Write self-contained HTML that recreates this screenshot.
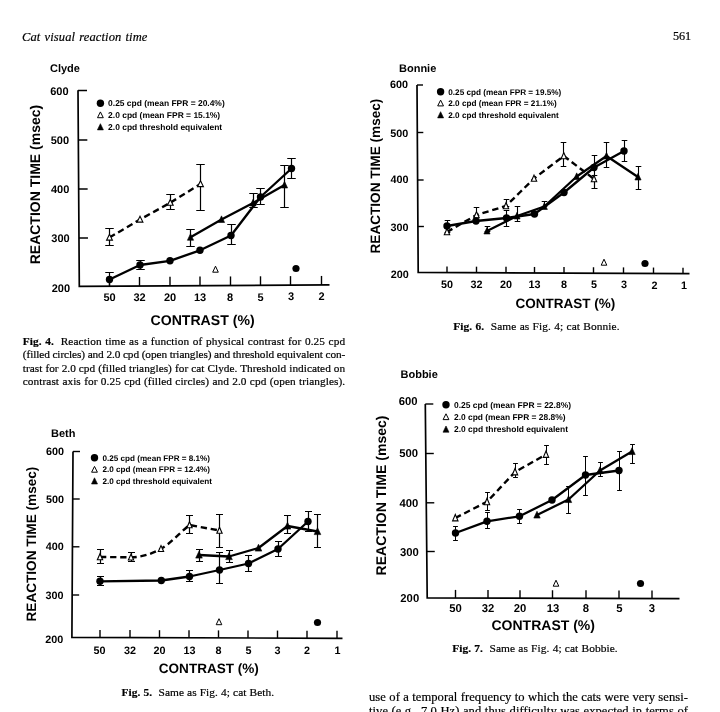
<!DOCTYPE html>
<html lang="en"><head><meta charset="utf-8"><title>Cat visual reaction time</title>
<style>
html,body{margin:0;padding:0;background:#fff;}
body{width:720px;height:712px;position:relative;overflow:hidden;color:#000;}
svg{position:absolute;left:0;top:0;filter:blur(0.35px);}
svg text{text-rendering:geometricPrecision;}
.t{position:absolute;white-space:nowrap;font-family:"Liberation Serif",serif;color:#000;line-height:1;-webkit-text-stroke:0.2px #000;filter:blur(0.3px);}
.j{text-align:justify;text-align-last:justify;white-space:normal;}
.cap{font-size:11px;}
.body{font-size:12.6px;}
b{font-weight:bold;}
</style></head><body>
<svg width="720" height="712" viewBox="0 0 720 712">
<path d="M78 90.3 L79.3 286.3 L329.5 284.9" fill="none" stroke="#000" stroke-width="1.7" stroke-linejoin="miter"/>
<path d="M78.00 90.5 L87.00 90.45" stroke="#000" stroke-width="1.4"/>
<path d="M78.33 140 L87.33 139.95" stroke="#000" stroke-width="1.4"/>
<path d="M78.65 189 L87.65 188.95" stroke="#000" stroke-width="1.4"/>
<path d="M78.98 238 L87.98 237.95" stroke="#000" stroke-width="1.4"/>
<text x="68.6" y="94.5" font-family='"Liberation Sans", sans-serif' font-size="11" font-weight="bold" text-anchor="end">600</text>
<text x="69" y="144" font-family='"Liberation Sans", sans-serif' font-size="11" font-weight="bold" text-anchor="end">500</text>
<text x="69.3" y="193" font-family='"Liberation Sans", sans-serif' font-size="11" font-weight="bold" text-anchor="end">400</text>
<text x="69.7" y="242" font-family='"Liberation Sans", sans-serif' font-size="11" font-weight="bold" text-anchor="end">300</text>
<text x="70" y="291.7" font-family='"Liberation Sans", sans-serif' font-size="11" font-weight="bold" text-anchor="end">200</text>
<path d="M109.5 286.13 L109.5 277.13" stroke="#000" stroke-width="1.4"/>
<path d="M139.5 285.96 L139.5 276.96" stroke="#000" stroke-width="1.4"/>
<path d="M170 285.79 L170 276.79" stroke="#000" stroke-width="1.4"/>
<path d="M200 285.62 L200 276.62" stroke="#000" stroke-width="1.4"/>
<path d="M230.5 285.45 L230.5 276.45" stroke="#000" stroke-width="1.4"/>
<path d="M260.5 285.29 L260.5 276.29" stroke="#000" stroke-width="1.4"/>
<path d="M290.5 285.12 L290.5 276.12" stroke="#000" stroke-width="1.4"/>
<path d="M321.5 284.94 L321.5 275.94" stroke="#000" stroke-width="1.4"/>
<text x="109.5" y="301.3" font-family='"Liberation Sans", sans-serif' font-size="11" font-weight="bold" text-anchor="middle">50</text>
<text x="139.5" y="301.16" font-family='"Liberation Sans", sans-serif' font-size="11" font-weight="bold" text-anchor="middle">32</text>
<text x="170" y="301.01" font-family='"Liberation Sans", sans-serif' font-size="11" font-weight="bold" text-anchor="middle">20</text>
<text x="200" y="300.87" font-family='"Liberation Sans", sans-serif' font-size="11" font-weight="bold" text-anchor="middle">13</text>
<text x="230" y="300.73" font-family='"Liberation Sans", sans-serif' font-size="11" font-weight="bold" text-anchor="middle">8</text>
<text x="260.5" y="300.59" font-family='"Liberation Sans", sans-serif' font-size="11" font-weight="bold" text-anchor="middle">5</text>
<text x="291" y="300.44" font-family='"Liberation Sans", sans-serif' font-size="11" font-weight="bold" text-anchor="middle">3</text>
<text x="321.5" y="300.3" font-family='"Liberation Sans", sans-serif' font-size="11" font-weight="bold" text-anchor="middle">2</text>
<text x="50" y="71.5" font-family='"Liberation Sans", sans-serif' font-size="11" font-weight="bold" text-anchor="start">Clyde</text>
<text x="150.5" y="325" font-family='"Liberation Sans", sans-serif' font-size="14.1" font-weight="bold" text-anchor="start">CONTRAST (%)</text>
<text transform="translate(40.2 264.3) rotate(-90)" font-family='"Liberation Sans", sans-serif' font-size="14.0" font-weight="bold">REACTION TIME (msec)</text>
<circle cx="100.4" cy="103.3" r="3.7" fill="#000"/>
<path d="M97.50 117.71 L103.30 117.71 L100.40 111.91 Z" fill="#fff" stroke="#000" stroke-width="1.0" stroke-linejoin="miter"/>
<path d="M97.40 129.89 L103.40 129.89 L100.40 123.69 Z" fill="#000" stroke="#000" stroke-width="0.6"/>
<text x="108.1" y="106.342" font-family='"Liberation Sans", sans-serif' font-size="8.45" font-weight="bold" text-anchor="start" textLength="116.6" lengthAdjust="spacingAndGlyphs">0.25 cpd (mean FPR = 20.4%)</text>
<text x="108.1" y="117.842" font-family='"Liberation Sans", sans-serif' font-size="8.45" font-weight="bold" text-anchor="start" textLength="112.1" lengthAdjust="spacingAndGlyphs">2.0 cpd (mean FPR = 15.1%)</text>
<text x="108.1" y="129.84199999999998" font-family='"Liberation Sans", sans-serif' font-size="8.45" font-weight="bold" text-anchor="start" textLength="114.1" lengthAdjust="spacingAndGlyphs">2.0 cpd threshold equivalent</text>
<path d="M109.5 237.5 C109.50 237.50 140.00 219.50 140 219.5 C140.00 219.50 170.30 202.70 170.3 202.7 C170.30 202.70 200.50 184.00 200.5 184" fill="none" stroke="#000" stroke-width="2.4" stroke-linejoin="round" stroke-dasharray="6.3 3.8"/>
<path d="M109.5 279.5 C109.50 279.50 140.00 265.00 140 265 C140.00 265.00 170.00 260.80 170 260.8 C170.00 260.80 200.00 250.30 200 250.3 C200.00 250.30 231.00 235.50 231 235.5 C231.00 235.50 260.50 197.00 260.5 197 C260.50 197.00 291.50 168.50 291.5 168.5" fill="none" stroke="#000" stroke-width="2.3" stroke-linejoin="round"/>
<path d="M190.5 237.3 C190.50 237.30 221.50 219.50 221.5 219.5 C221.50 219.50 253.00 203.00 253 203 C253.00 203.00 284.50 185.00 284.5 185" fill="none" stroke="#000" stroke-width="2.3" stroke-linejoin="round"/>
<path d="M109.5 228.5 V245.5 M105.25 228.5 H113.75 M105.25 245.5 H113.75" fill="none" stroke="#000" stroke-width="1.2"/>
<path d="M170.5 194.5 V209.5 M166.25 194.5 H174.75 M166.25 209.5 H174.75" fill="none" stroke="#000" stroke-width="1.2"/>
<path d="M200.5 164.5 V210.5 M196.25 164.5 H204.75 M196.25 210.5 H204.75" fill="none" stroke="#000" stroke-width="1.2"/>
<path d="M109.5 272.5 V286.5 M105.25 272.5 H113.75 M105.25 286.5 H113.75" fill="none" stroke="#000" stroke-width="1.2"/>
<path d="M140.5 260.5 V269.5 M136.25 260.5 H144.75 M136.25 269.5 H144.75" fill="none" stroke="#000" stroke-width="1.2"/>
<path d="M231.5 224.5 V244.5 M227.25 224.5 H235.75 M227.25 244.5 H235.75" fill="none" stroke="#000" stroke-width="1.2"/>
<path d="M260.5 188.5 V204.5 M256.25 188.5 H264.75 M256.25 204.5 H264.75" fill="none" stroke="#000" stroke-width="1.2"/>
<path d="M291.5 158.5 V178.5 M287.25 158.5 H295.75 M287.25 178.5 H295.75" fill="none" stroke="#000" stroke-width="1.2"/>
<path d="M190.5 229.5 V246.5 M186.25 229.5 H194.75 M186.25 246.5 H194.75" fill="none" stroke="#000" stroke-width="1.2"/>
<path d="M253.5 193.5 V207.5 M249.25 193.5 H257.75 M249.25 207.5 H257.75" fill="none" stroke="#000" stroke-width="1.2"/>
<path d="M284.5 165.5 V207.5 M280.25 165.5 H288.75 M280.25 207.5 H288.75" fill="none" stroke="#000" stroke-width="1.2"/>
<path d="M106.60 240.11 L112.40 240.11 L109.50 234.31 Z" fill="#fff" stroke="#000" stroke-width="1.1" stroke-linejoin="miter"/>
<path d="M137.10 222.11 L142.90 222.11 L140.00 216.31 Z" fill="#fff" stroke="#000" stroke-width="1.1" stroke-linejoin="miter"/>
<path d="M167.40 205.31 L173.20 205.31 L170.30 199.51 Z" fill="#fff" stroke="#000" stroke-width="1.1" stroke-linejoin="miter"/>
<path d="M197.60 186.61 L203.40 186.61 L200.50 180.81 Z" fill="#fff" stroke="#000" stroke-width="1.1" stroke-linejoin="miter"/>
<circle cx="109.5" cy="279.5" r="3.7" fill="#000"/>
<circle cx="140" cy="265" r="3.7" fill="#000"/>
<circle cx="170" cy="260.8" r="3.7" fill="#000"/>
<circle cx="200" cy="250.3" r="3.7" fill="#000"/>
<circle cx="231" cy="235.5" r="3.7" fill="#000"/>
<circle cx="260.5" cy="197" r="3.7" fill="#000"/>
<circle cx="291.5" cy="168.5" r="3.7" fill="#000"/>
<path d="M187.40 240.27 L193.60 240.27 L190.50 233.67 Z" fill="#000" stroke="#000" stroke-width="0.6"/>
<path d="M218.40 222.47 L224.60 222.47 L221.50 215.87 Z" fill="#000" stroke="#000" stroke-width="0.6"/>
<path d="M249.90 205.97 L256.10 205.97 L253.00 199.37 Z" fill="#000" stroke="#000" stroke-width="0.6"/>
<path d="M281.40 187.97 L287.60 187.97 L284.50 181.37 Z" fill="#000" stroke="#000" stroke-width="0.6"/>
<path d="M212.70 272.20 L218.30 272.20 L215.50 266.20 Z" fill="#fff" stroke="#000" stroke-width="1.0" stroke-linejoin="miter"/>
<circle cx="296" cy="268.5" r="3.6" fill="#000"/>
<path d="M417 85 L418.2 272.4 L689.5 273.7" fill="none" stroke="#000" stroke-width="1.7" stroke-linejoin="miter"/>
<path d="M417.00 85 L423.00 85.00" stroke="#000" stroke-width="1.4"/>
<path d="M417.30 132.5 L423.30 132.50" stroke="#000" stroke-width="1.4"/>
<path d="M417.61 180 L423.61 180.00" stroke="#000" stroke-width="1.4"/>
<path d="M417.91 226.5 L423.91 226.50" stroke="#000" stroke-width="1.4"/>
<text x="408" y="88" font-family='"Liberation Sans", sans-serif' font-size="10.8" font-weight="bold" text-anchor="end">600</text>
<text x="408.2" y="136.5" font-family='"Liberation Sans", sans-serif' font-size="10.8" font-weight="bold" text-anchor="end">500</text>
<text x="408.4" y="183.3" font-family='"Liberation Sans", sans-serif' font-size="10.8" font-weight="bold" text-anchor="end">400</text>
<text x="408.6" y="230.5" font-family='"Liberation Sans", sans-serif' font-size="10.8" font-weight="bold" text-anchor="end">300</text>
<text x="408.8" y="277.8" font-family='"Liberation Sans", sans-serif' font-size="10.8" font-weight="bold" text-anchor="end">200</text>
<path d="M447 272.54 L447 266.54" stroke="#000" stroke-width="1.4"/>
<path d="M476.5 272.68 L476.5 266.68" stroke="#000" stroke-width="1.4"/>
<path d="M506 272.82 L506 266.82" stroke="#000" stroke-width="1.4"/>
<path d="M534.5 272.96 L534.5 266.96" stroke="#000" stroke-width="1.4"/>
<path d="M564 273.10 L564 267.10" stroke="#000" stroke-width="1.4"/>
<path d="M593.5 273.24 L593.5 267.24" stroke="#000" stroke-width="1.4"/>
<path d="M623.5 273.38 L623.5 267.38" stroke="#000" stroke-width="1.4"/>
<path d="M653.5 273.53 L653.5 267.53" stroke="#000" stroke-width="1.4"/>
<path d="M683 273.67 L683 267.67" stroke="#000" stroke-width="1.4"/>
<text x="447" y="287.8" font-family='"Liberation Sans", sans-serif' font-size="10.8" font-weight="bold" text-anchor="middle">50</text>
<text x="476.5" y="287.9" font-family='"Liberation Sans", sans-serif' font-size="10.8" font-weight="bold" text-anchor="middle">32</text>
<text x="506" y="288.0" font-family='"Liberation Sans", sans-serif' font-size="10.8" font-weight="bold" text-anchor="middle">20</text>
<text x="534.5" y="288.1" font-family='"Liberation Sans", sans-serif' font-size="10.8" font-weight="bold" text-anchor="middle">13</text>
<text x="564" y="288.2" font-family='"Liberation Sans", sans-serif' font-size="10.8" font-weight="bold" text-anchor="middle">8</text>
<text x="594" y="288.3" font-family='"Liberation Sans", sans-serif' font-size="10.8" font-weight="bold" text-anchor="middle">5</text>
<text x="624" y="288.4" font-family='"Liberation Sans", sans-serif' font-size="10.8" font-weight="bold" text-anchor="middle">3</text>
<text x="654.5" y="288.5" font-family='"Liberation Sans", sans-serif' font-size="10.8" font-weight="bold" text-anchor="middle">2</text>
<text x="684" y="288.6" font-family='"Liberation Sans", sans-serif' font-size="10.8" font-weight="bold" text-anchor="middle">1</text>
<text x="399" y="71.5" font-family='"Liberation Sans", sans-serif' font-size="11" font-weight="bold" text-anchor="start">Bonnie</text>
<text x="515.6" y="307.6" font-family='"Liberation Sans", sans-serif' font-size="13.5" font-weight="bold" text-anchor="start">CONTRAST (%)</text>
<text transform="translate(379.6 253.5) rotate(-90)" font-family='"Liberation Sans", sans-serif' font-size="13.6" font-weight="bold">REACTION TIME (msec)</text>
<circle cx="440.6" cy="91.8" r="3.7" fill="#000"/>
<path d="M437.70 105.91 L443.50 105.91 L440.60 100.11 Z" fill="#fff" stroke="#000" stroke-width="1.0" stroke-linejoin="miter"/>
<path d="M437.60 117.89 L443.60 117.89 L440.60 111.69 Z" fill="#000" stroke="#000" stroke-width="0.6"/>
<text x="448.3" y="94.7448" font-family='"Liberation Sans", sans-serif' font-size="8.18" font-weight="bold" text-anchor="start" textLength="113" lengthAdjust="spacingAndGlyphs">0.25 cpd (mean FPR = 19.5%)</text>
<text x="448.3" y="105.9448" font-family='"Liberation Sans", sans-serif' font-size="8.18" font-weight="bold" text-anchor="start" textLength="108.5" lengthAdjust="spacingAndGlyphs">2.0 cpd (mean FPR = 21.1%)</text>
<text x="448.3" y="117.7448" font-family='"Liberation Sans", sans-serif' font-size="8.18" font-weight="bold" text-anchor="start" textLength="110.5" lengthAdjust="spacingAndGlyphs">2.0 cpd threshold equivalent</text>
<path d="M447 232 C447.00 232.00 476.50 215.00 476.5 215 C476.50 215.00 506.00 206.00 506 206 C506.00 206.00 534.00 178.50 534 178.5 C534.00 178.50 563.80 156.00 563.8 156 C563.80 156.00 594.00 179.00 594 179" fill="none" stroke="#000" stroke-width="2.4" stroke-linejoin="round" stroke-dasharray="6.3 3.8"/>
<path d="M447 226 C447.00 226.00 476.00 221.00 476 221 C476.00 221.00 506.50 218.00 506.5 218 C506.50 218.00 534.50 214.00 534.5 214 C534.50 214.00 564.00 192.50 564 192.5 C564.00 192.50 594.00 167.50 594 167.5 C594.00 167.50 624.00 151.00 624 151" fill="none" stroke="#000" stroke-width="2.3" stroke-linejoin="round"/>
<path d="M487 231 C487.00 231.00 517.00 216.00 517 216 C517.00 216.00 544.30 206.50 544.3 206.5 C544.30 206.50 576.70 176.50 576.7 176.5 C576.70 176.50 606.50 156.00 606.5 156 C606.50 156.00 638.00 177.00 638 177" fill="none" stroke="#000" stroke-width="2.3" stroke-linejoin="round"/>
<path d="M447.5 220.5 V232.5 M444.7 220.5 H450.3 M444.7 232.5 H450.3" fill="none" stroke="#000" stroke-width="1.1"/>
<path d="M506.5 210.5 V226.5 M503.7 210.5 H509.3 M503.7 226.5 H509.3" fill="none" stroke="#000" stroke-width="1.1"/>
<path d="M594.5 155.5 V188.5 M591.7 155.5 H597.3 M591.7 188.5 H597.3" fill="none" stroke="#000" stroke-width="1.1"/>
<path d="M624.5 140.5 V161.5 M621.7 140.5 H627.3 M621.7 161.5 H627.3" fill="none" stroke="#000" stroke-width="1.1"/>
<path d="M476.5 207.5 V215.5 M473.7 207.5 H479.3 M473.7 215.5 H479.3" fill="none" stroke="#000" stroke-width="1.1"/>
<path d="M506.5 199.5 V206.5 M503.7 199.5 H509.3 M503.7 206.5 H509.3" fill="none" stroke="#000" stroke-width="1.1"/>
<path d="M563.5 142.5 V166.5 M560.7 142.5 H566.3 M560.7 166.5 H566.3" fill="none" stroke="#000" stroke-width="1.1"/>
<path d="M594.5 175.5 V188.5 M591.7 175.5 H597.3 M591.7 188.5 H597.3" fill="none" stroke="#000" stroke-width="1.1"/>
<path d="M487.5 226.5 V231.5 M484.7 226.5 H490.3 M484.7 231.5 H490.3" fill="none" stroke="#000" stroke-width="1.1"/>
<path d="M517.5 206.5 V221.5 M514.7 206.5 H520.3 M514.7 221.5 H520.3" fill="none" stroke="#000" stroke-width="1.1"/>
<path d="M544.5 201.5 V206.5 M541.7 201.5 H547.3 M541.7 206.5 H547.3" fill="none" stroke="#000" stroke-width="1.1"/>
<path d="M606.5 142.5 V167.5 M603.7 142.5 H609.3 M603.7 167.5 H609.3" fill="none" stroke="#000" stroke-width="1.1"/>
<path d="M638.5 166.5 V189.5 M635.7 166.5 H641.3 M635.7 189.5 H641.3" fill="none" stroke="#000" stroke-width="1.1"/>
<path d="M444.30 234.79 L449.70 234.79 L447.00 228.59 Z" fill="#fff" stroke="#000" stroke-width="1.1" stroke-linejoin="miter"/>
<path d="M473.80 217.79 L479.20 217.79 L476.50 211.59 Z" fill="#fff" stroke="#000" stroke-width="1.1" stroke-linejoin="miter"/>
<path d="M503.30 208.79 L508.70 208.79 L506.00 202.59 Z" fill="#fff" stroke="#000" stroke-width="1.1" stroke-linejoin="miter"/>
<path d="M531.30 181.29 L536.70 181.29 L534.00 175.09 Z" fill="#fff" stroke="#000" stroke-width="1.1" stroke-linejoin="miter"/>
<path d="M561.10 158.79 L566.50 158.79 L563.80 152.59 Z" fill="#fff" stroke="#000" stroke-width="1.1" stroke-linejoin="miter"/>
<path d="M591.30 181.79 L596.70 181.79 L594.00 175.59 Z" fill="#fff" stroke="#000" stroke-width="1.1" stroke-linejoin="miter"/>
<circle cx="447" cy="226" r="3.7" fill="#000"/>
<circle cx="476" cy="221" r="3.7" fill="#000"/>
<circle cx="506.5" cy="218" r="3.7" fill="#000"/>
<circle cx="534.5" cy="214" r="3.7" fill="#000"/>
<circle cx="564" cy="192.5" r="3.7" fill="#000"/>
<circle cx="594" cy="167.5" r="3.7" fill="#000"/>
<circle cx="624" cy="151" r="3.7" fill="#000"/>
<path d="M483.90 233.97 L490.10 233.97 L487.00 227.37 Z" fill="#000" stroke="#000" stroke-width="0.6"/>
<path d="M513.90 218.97 L520.10 218.97 L517.00 212.37 Z" fill="#000" stroke="#000" stroke-width="0.6"/>
<path d="M541.20 209.47 L547.40 209.47 L544.30 202.87 Z" fill="#000" stroke="#000" stroke-width="0.6"/>
<path d="M573.60 179.47 L579.80 179.47 L576.70 172.87 Z" fill="#000" stroke="#000" stroke-width="0.6"/>
<path d="M603.40 158.97 L609.60 158.97 L606.50 152.37 Z" fill="#000" stroke="#000" stroke-width="0.6"/>
<path d="M634.90 179.97 L641.10 179.97 L638.00 173.37 Z" fill="#000" stroke="#000" stroke-width="0.6"/>
<path d="M601.20 265.20 L606.80 265.20 L604.00 259.20 Z" fill="#fff" stroke="#000" stroke-width="1.0" stroke-linejoin="miter"/>
<circle cx="645" cy="263.5" r="3.6" fill="#000"/>
<path d="M73 451.5 L71.9 637.4 L342.5 638.3" fill="none" stroke="#000" stroke-width="1.7" stroke-linejoin="miter"/>
<path d="M73.00 451.5 L80.00 451.50" stroke="#000" stroke-width="1.4"/>
<path d="M72.72 499 L79.72 499.00" stroke="#000" stroke-width="1.4"/>
<path d="M72.44 546.8 L79.44 546.80" stroke="#000" stroke-width="1.4"/>
<path d="M72.15 595 L79.15 595.00" stroke="#000" stroke-width="1.4"/>
<text x="64" y="454.5" font-family='"Liberation Sans", sans-serif' font-size="10.8" font-weight="bold" text-anchor="end">600</text>
<text x="63.9" y="502.5" font-family='"Liberation Sans", sans-serif' font-size="10.8" font-weight="bold" text-anchor="end">500</text>
<text x="63.7" y="550" font-family='"Liberation Sans", sans-serif' font-size="10.8" font-weight="bold" text-anchor="end">400</text>
<text x="63.5" y="598.5" font-family='"Liberation Sans", sans-serif' font-size="10.8" font-weight="bold" text-anchor="end">300</text>
<text x="63.3" y="643.2" font-family='"Liberation Sans", sans-serif' font-size="10.8" font-weight="bold" text-anchor="end">200</text>
<path d="M100 637.49 L100 629.99" stroke="#000" stroke-width="1.4"/>
<path d="M130 637.59 L130 630.09" stroke="#000" stroke-width="1.4"/>
<path d="M159.5 637.69 L159.5 630.19" stroke="#000" stroke-width="1.4"/>
<path d="M189 637.79 L189 630.29" stroke="#000" stroke-width="1.4"/>
<path d="M218.5 637.89 L218.5 630.39" stroke="#000" stroke-width="1.4"/>
<path d="M248 637.99 L248 630.49" stroke="#000" stroke-width="1.4"/>
<path d="M277.5 638.08 L277.5 630.58" stroke="#000" stroke-width="1.4"/>
<path d="M307 638.18 L307 630.68" stroke="#000" stroke-width="1.4"/>
<path d="M337 638.28 L337 630.78" stroke="#000" stroke-width="1.4"/>
<text x="99.5" y="653.5" font-family='"Liberation Sans", sans-serif' font-size="10.8" font-weight="bold" text-anchor="middle">50</text>
<text x="130" y="653.5" font-family='"Liberation Sans", sans-serif' font-size="10.8" font-weight="bold" text-anchor="middle">32</text>
<text x="159.5" y="653.5" font-family='"Liberation Sans", sans-serif' font-size="10.8" font-weight="bold" text-anchor="middle">20</text>
<text x="189.5" y="653.5" font-family='"Liberation Sans", sans-serif' font-size="10.8" font-weight="bold" text-anchor="middle">13</text>
<text x="218.5" y="653.5" font-family='"Liberation Sans", sans-serif' font-size="10.8" font-weight="bold" text-anchor="middle">8</text>
<text x="248.5" y="653.5" font-family='"Liberation Sans", sans-serif' font-size="10.8" font-weight="bold" text-anchor="middle">5</text>
<text x="277.5" y="653.5" font-family='"Liberation Sans", sans-serif' font-size="10.8" font-weight="bold" text-anchor="middle">3</text>
<text x="307" y="653.5" font-family='"Liberation Sans", sans-serif' font-size="10.8" font-weight="bold" text-anchor="middle">2</text>
<text x="337.5" y="653.5" font-family='"Liberation Sans", sans-serif' font-size="10.8" font-weight="bold" text-anchor="middle">1</text>
<text x="51" y="437" font-family='"Liberation Sans", sans-serif' font-size="11" font-weight="bold" text-anchor="start">Beth</text>
<text x="158.8" y="673" font-family='"Liberation Sans", sans-serif' font-size="13.55" font-weight="bold" text-anchor="start">CONTRAST (%)</text>
<text transform="translate(35.5 621.5) rotate(-90)" font-family='"Liberation Sans", sans-serif' font-size="13.6" font-weight="bold">REACTION TIME (msec)</text>
<circle cx="94.5" cy="457.8" r="3.7" fill="#000"/>
<path d="M91.60 472.21 L97.40 472.21 L94.50 466.41 Z" fill="#fff" stroke="#000" stroke-width="1.0" stroke-linejoin="miter"/>
<path d="M91.50 483.99 L97.50 483.99 L94.50 477.79 Z" fill="#000" stroke="#000" stroke-width="0.6"/>
<text x="102.5" y="460.7232" font-family='"Liberation Sans", sans-serif' font-size="8.12" font-weight="bold" text-anchor="start" textLength="107.5" lengthAdjust="spacingAndGlyphs">0.25 cpd (mean FPR = 8.1%)</text>
<text x="102.5" y="472.2232" font-family='"Liberation Sans", sans-serif' font-size="8.12" font-weight="bold" text-anchor="start" textLength="107.5" lengthAdjust="spacingAndGlyphs">2.0 cpd (mean FPR = 12.4%)</text>
<text x="102.5" y="483.8232" font-family='"Liberation Sans", sans-serif' font-size="8.12" font-weight="bold" text-anchor="start" textLength="109.5" lengthAdjust="spacingAndGlyphs">2.0 cpd threshold equivalent</text>
<path d="M100 557 L131 557.3 C143 557.2 152 553.5 161 548.8 C170 544 180 532.5 189.5 525 L219.5 530.5" fill="none" stroke="#000" stroke-width="2.4" stroke-dasharray="6.3 3.8"/>
<path d="M100 581.3 C100.00 581.30 161.30 580.50 161.3 580.5 C161.30 580.50 189.50 576.50 189.5 576.5 C189.50 576.50 219.50 570.00 219.5 570 C219.50 570.00 248.50 563.50 248.5 563.5 C248.50 563.50 278.00 549.00 278 549 C278.00 549.00 308.00 521.50 308 521.5" fill="none" stroke="#000" stroke-width="2.3" stroke-linejoin="round"/>
<path d="M199 555 C199.00 555.00 229.00 556.50 229 556.5 C229.00 556.50 258.50 548.00 258.5 548 C258.50 548.00 287.50 526.00 287.5 526 C287.50 526.00 317.50 531.50 317.5 531.5" fill="none" stroke="#000" stroke-width="2.3" stroke-linejoin="round"/>
<path d="M100.5 549.5 V563.5 M97.0 549.5 H104.0 M97.0 563.5 H104.0" fill="none" stroke="#000" stroke-width="1.2"/>
<path d="M131.5 552.5 V561.5 M128.0 552.5 H135.0 M128.0 561.5 H135.0" fill="none" stroke="#000" stroke-width="1.2"/>
<path d="M189.5 515.5 V533.5 M186.0 515.5 H193.0 M186.0 533.5 H193.0" fill="none" stroke="#000" stroke-width="1.2"/>
<path d="M219.5 514.5 V547.5 M216.0 514.5 H223.0 M216.0 547.5 H223.0" fill="none" stroke="#000" stroke-width="1.2"/>
<path d="M100.5 576.5 V585.5 M97.0 576.5 H104.0 M97.0 585.5 H104.0" fill="none" stroke="#000" stroke-width="1.2"/>
<path d="M189.5 570.5 V581.5 M186.0 570.5 H193.0 M186.0 581.5 H193.0" fill="none" stroke="#000" stroke-width="1.2"/>
<path d="M219.5 552.5 V583.5 M216.0 552.5 H223.0 M216.0 583.5 H223.0" fill="none" stroke="#000" stroke-width="1.2"/>
<path d="M248.5 555.5 V571.5 M245.0 555.5 H252.0 M245.0 571.5 H252.0" fill="none" stroke="#000" stroke-width="1.2"/>
<path d="M278.5 541.5 V556.5 M275.0 541.5 H282.0 M275.0 556.5 H282.0" fill="none" stroke="#000" stroke-width="1.2"/>
<path d="M308.5 511.5 V531.5 M305.0 511.5 H312.0 M305.0 531.5 H312.0" fill="none" stroke="#000" stroke-width="1.2"/>
<path d="M199.5 549.5 V561.5 M196.0 549.5 H203.0 M196.0 561.5 H203.0" fill="none" stroke="#000" stroke-width="1.2"/>
<path d="M229.5 550.5 V562.5 M226.0 550.5 H233.0 M226.0 562.5 H233.0" fill="none" stroke="#000" stroke-width="1.2"/>
<path d="M287.5 515.5 V533.5 M284.0 515.5 H291.0 M284.0 533.5 H291.0" fill="none" stroke="#000" stroke-width="1.2"/>
<path d="M317.5 514.5 V547.5 M314.0 514.5 H321.0 M314.0 547.5 H321.0" fill="none" stroke="#000" stroke-width="1.2"/>
<path d="M97.35 559.70 L102.65 559.70 L100.00 553.70 Z" fill="#fff" stroke="#000" stroke-width="1.1" stroke-linejoin="miter"/>
<path d="M128.35 560.00 L133.65 560.00 L131.00 554.00 Z" fill="#fff" stroke="#000" stroke-width="1.1" stroke-linejoin="miter"/>
<path d="M158.35 551.50 L163.65 551.50 L161.00 545.50 Z" fill="#fff" stroke="#000" stroke-width="1.1" stroke-linejoin="miter"/>
<path d="M186.85 527.70 L192.15 527.70 L189.50 521.70 Z" fill="#fff" stroke="#000" stroke-width="1.1" stroke-linejoin="miter"/>
<path d="M216.85 533.20 L222.15 533.20 L219.50 527.20 Z" fill="#fff" stroke="#000" stroke-width="1.1" stroke-linejoin="miter"/>
<circle cx="100" cy="581.3" r="3.7" fill="#000"/>
<circle cx="161.3" cy="580.5" r="3.7" fill="#000"/>
<circle cx="189.5" cy="576.5" r="3.7" fill="#000"/>
<circle cx="219.5" cy="570" r="3.7" fill="#000"/>
<circle cx="248.5" cy="563.5" r="3.7" fill="#000"/>
<circle cx="278" cy="549" r="3.7" fill="#000"/>
<circle cx="308" cy="521.5" r="3.7" fill="#000"/>
<path d="M195.70 558.11 L202.30 558.11 L199.00 551.21 Z" fill="#000" stroke="#000" stroke-width="0.6"/>
<path d="M225.70 559.61 L232.30 559.61 L229.00 552.71 Z" fill="#000" stroke="#000" stroke-width="0.6"/>
<path d="M255.20 551.11 L261.80 551.11 L258.50 544.21 Z" fill="#000" stroke="#000" stroke-width="0.6"/>
<path d="M284.20 529.11 L290.80 529.11 L287.50 522.21 Z" fill="#000" stroke="#000" stroke-width="0.6"/>
<path d="M314.20 534.61 L320.80 534.61 L317.50 527.71 Z" fill="#000" stroke="#000" stroke-width="0.6"/>
<path d="M216.20 624.70 L221.80 624.70 L219.00 618.70 Z" fill="#fff" stroke="#000" stroke-width="1.0" stroke-linejoin="miter"/>
<circle cx="317.5" cy="622.5" r="3.6" fill="#000"/>
<path d="M425.3 404 L427.2 597.8 L679.5 598.7" fill="none" stroke="#000" stroke-width="1.7" stroke-linejoin="miter"/>
<path d="M425.30 404 L433.30 404.00" stroke="#000" stroke-width="1.4"/>
<path d="M425.79 453.5 L433.79 453.50" stroke="#000" stroke-width="1.4"/>
<path d="M426.27 502.8 L434.27 502.80" stroke="#000" stroke-width="1.4"/>
<path d="M426.75 551.5 L434.75 551.50" stroke="#000" stroke-width="1.4"/>
<text x="417.6" y="405.3" font-family='"Liberation Sans", sans-serif' font-size="11.3" font-weight="bold" text-anchor="end">600</text>
<text x="418" y="456.8" font-family='"Liberation Sans", sans-serif' font-size="11.3" font-weight="bold" text-anchor="end">500</text>
<text x="418.4" y="506.5" font-family='"Liberation Sans", sans-serif' font-size="11.3" font-weight="bold" text-anchor="end">400</text>
<text x="418.8" y="555.5" font-family='"Liberation Sans", sans-serif' font-size="11.3" font-weight="bold" text-anchor="end">300</text>
<text x="419.2" y="602.3" font-family='"Liberation Sans", sans-serif' font-size="11.3" font-weight="bold" text-anchor="end">200</text>
<path d="M455.5 597.90 L455.5 589.90" stroke="#000" stroke-width="1.4"/>
<path d="M488 598.02 L488 590.02" stroke="#000" stroke-width="1.4"/>
<path d="M520 598.13 L520 590.13" stroke="#000" stroke-width="1.4"/>
<path d="M552.5 598.25 L552.5 590.25" stroke="#000" stroke-width="1.4"/>
<path d="M586 598.37 L586 590.37" stroke="#000" stroke-width="1.4"/>
<path d="M619 598.48 L619 590.48" stroke="#000" stroke-width="1.4"/>
<path d="M652 598.60 L652 590.60" stroke="#000" stroke-width="1.4"/>
<text x="455.5" y="611.8" font-family='"Liberation Sans", sans-serif' font-size="11.3" font-weight="bold" text-anchor="middle">50</text>
<text x="488" y="611.8" font-family='"Liberation Sans", sans-serif' font-size="11.3" font-weight="bold" text-anchor="middle">32</text>
<text x="520" y="611.8" font-family='"Liberation Sans", sans-serif' font-size="11.3" font-weight="bold" text-anchor="middle">20</text>
<text x="553" y="611.8" font-family='"Liberation Sans", sans-serif' font-size="11.3" font-weight="bold" text-anchor="middle">13</text>
<text x="586" y="611.8" font-family='"Liberation Sans", sans-serif' font-size="11.3" font-weight="bold" text-anchor="middle">8</text>
<text x="619.5" y="611.8" font-family='"Liberation Sans", sans-serif' font-size="11.3" font-weight="bold" text-anchor="middle">5</text>
<text x="652" y="611.8" font-family='"Liberation Sans", sans-serif' font-size="11.3" font-weight="bold" text-anchor="middle">3</text>
<text x="400.5" y="378" font-family='"Liberation Sans", sans-serif' font-size="11" font-weight="bold" text-anchor="start">Bobbie</text>
<text x="491.5" y="630" font-family='"Liberation Sans", sans-serif' font-size="14" font-weight="bold" text-anchor="start">CONTRAST (%)</text>
<text transform="translate(386.0 575.5) rotate(-90)" font-family='"Liberation Sans", sans-serif' font-size="14.06" font-weight="bold">REACTION TIME (msec)</text>
<circle cx="446" cy="404.8" r="3.7" fill="#000"/>
<path d="M443.10 419.61 L448.90 419.61 L446.00 413.81 Z" fill="#fff" stroke="#000" stroke-width="1.0" stroke-linejoin="miter"/>
<path d="M443.00 432.19 L449.00 432.19 L446.00 425.99 Z" fill="#000" stroke="#000" stroke-width="0.6"/>
<text x="454" y="407.842" font-family='"Liberation Sans", sans-serif' font-size="8.45" font-weight="bold" text-anchor="start" textLength="117" lengthAdjust="spacingAndGlyphs">0.25 cpd (mean FPR = 22.8%)</text>
<text x="454" y="419.74199999999996" font-family='"Liberation Sans", sans-serif' font-size="8.45" font-weight="bold" text-anchor="start" textLength="111.5" lengthAdjust="spacingAndGlyphs">2.0 cpd (mean FPR = 28.8%)</text>
<text x="454" y="432.142" font-family='"Liberation Sans", sans-serif' font-size="8.45" font-weight="bold" text-anchor="start" textLength="114" lengthAdjust="spacingAndGlyphs">2.0 cpd threshold equivalent</text>
<path d="M455.3 518 C455.30 518.00 487.00 501.80 487 501.8 C487.00 501.80 515.00 472.00 515 472 C515.00 472.00 546.00 454.50 546 454.5" fill="none" stroke="#000" stroke-width="2.4" stroke-linejoin="round" stroke-dasharray="6.3 3.8"/>
<path d="M455.5 533 C455.50 533.00 487.00 521.30 487 521.3 C487.00 521.30 519.50 516.30 519.5 516.3 C519.50 516.30 552.00 500.00 552 500 C552.00 500.00 585.50 475.00 585.5 475 C585.50 475.00 619.00 470.50 619 470.5" fill="none" stroke="#000" stroke-width="2.3" stroke-linejoin="round"/>
<path d="M537 515 C537.00 515.00 568.50 499.50 568.5 499.5 C568.50 499.50 600.00 470.50 600 470.5 C600.00 470.50 632.00 451.50 632 451.5" fill="none" stroke="#000" stroke-width="2.3" stroke-linejoin="round"/>
<path d="M487.5 492.5 V510.5 M485.1 492.5 H489.9 M485.1 510.5 H489.9" fill="none" stroke="#000" stroke-width="1.0"/>
<path d="M515.5 463.5 V477.5 M513.1 463.5 H517.9 M513.1 477.5 H517.9" fill="none" stroke="#000" stroke-width="1.0"/>
<path d="M546.5 445.5 V464.5 M544.1 445.5 H548.9 M544.1 464.5 H548.9" fill="none" stroke="#000" stroke-width="1.0"/>
<path d="M455.5 526.5 V540.5 M453.1 526.5 H457.9 M453.1 540.5 H457.9" fill="none" stroke="#000" stroke-width="1.0"/>
<path d="M487.5 512.5 V528.5 M485.1 512.5 H489.9 M485.1 528.5 H489.9" fill="none" stroke="#000" stroke-width="1.0"/>
<path d="M519.5 509.5 V523.5 M517.1 509.5 H521.9 M517.1 523.5 H521.9" fill="none" stroke="#000" stroke-width="1.0"/>
<path d="M585.5 456.5 V495.5 M583.1 456.5 H587.9 M583.1 495.5 H587.9" fill="none" stroke="#000" stroke-width="1.0"/>
<path d="M619.5 451.5 V490.5 M617.1 451.5 H621.9 M617.1 490.5 H621.9" fill="none" stroke="#000" stroke-width="1.0"/>
<path d="M568.5 486.5 V513.5 M566.1 486.5 H570.9 M566.1 513.5 H570.9" fill="none" stroke="#000" stroke-width="1.0"/>
<path d="M600.5 462.5 V476.5 M598.1 462.5 H602.9 M598.1 476.5 H602.9" fill="none" stroke="#000" stroke-width="1.0"/>
<path d="M632.5 444.5 V463.5 M630.1 444.5 H634.9 M630.1 463.5 H634.9" fill="none" stroke="#000" stroke-width="1.0"/>
<path d="M452.60 520.88 L458.00 520.88 L455.30 514.48 Z" fill="#fff" stroke="#000" stroke-width="1.1" stroke-linejoin="miter"/>
<path d="M484.30 504.68 L489.70 504.68 L487.00 498.28 Z" fill="#fff" stroke="#000" stroke-width="1.1" stroke-linejoin="miter"/>
<path d="M512.30 474.88 L517.70 474.88 L515.00 468.48 Z" fill="#fff" stroke="#000" stroke-width="1.1" stroke-linejoin="miter"/>
<path d="M543.30 457.38 L548.70 457.38 L546.00 450.98 Z" fill="#fff" stroke="#000" stroke-width="1.1" stroke-linejoin="miter"/>
<circle cx="455.5" cy="533" r="3.7" fill="#000"/>
<circle cx="487" cy="521.3" r="3.7" fill="#000"/>
<circle cx="519.5" cy="516.3" r="3.7" fill="#000"/>
<circle cx="552" cy="500" r="3.7" fill="#000"/>
<circle cx="585.5" cy="475" r="3.7" fill="#000"/>
<circle cx="619" cy="470.5" r="3.7" fill="#000"/>
<path d="M533.80 518.06 L540.20 518.06 L537.00 511.26 Z" fill="#000" stroke="#000" stroke-width="0.6"/>
<path d="M565.30 502.56 L571.70 502.56 L568.50 495.76 Z" fill="#000" stroke="#000" stroke-width="0.6"/>
<path d="M596.80 473.56 L603.20 473.56 L600.00 466.76 Z" fill="#000" stroke="#000" stroke-width="0.6"/>
<path d="M628.80 454.56 L635.20 454.56 L632.00 447.76 Z" fill="#000" stroke="#000" stroke-width="0.6"/>
<path d="M553.20 586.20 L558.80 586.20 L556.00 580.20 Z" fill="#fff" stroke="#000" stroke-width="1.0" stroke-linejoin="miter"/>
<circle cx="640.5" cy="583.5" r="3.6" fill="#000"/>
</svg>
<div class="t" style="left:22px;top:30.78px;font-size:12.5px;letter-spacing:0.114px;word-spacing:0.914px"><i>Cat visual reaction time</i></div>
<div class="t" style="left:673px;top:29.53px;font-size:12.2px;letter-spacing:-0.094px;word-spacing:0.000px">561</div>
<div class="t" style="left:22.8px;top:336.18px;font-size:11.3px;letter-spacing:0.100px;word-spacing:0.577px"><b>Fig. 4.</b><span style="display:inline-block;width:3.3px"></span> Reaction time as a function of physical contrast for 0.25 cpd</div>
<div class="t" style="left:22.8px;top:349.38px;font-size:11.3px;letter-spacing:-0.097px;word-spacing:0.000px">(filled circles) and 2.0 cpd (open triangles) and threshold equivalent con-</div>
<div class="t" style="left:22.8px;top:362.58px;font-size:11.3px;letter-spacing:0.024px;word-spacing:0.162px">trast for 2.0 cpd (filled triangles) for cat Clyde. Threshold indicated on</div>
<div class="t" style="left:22.8px;top:375.78px;font-size:11.3px;letter-spacing:0.064px;word-spacing:0.424px">contrast axis for 0.25 cpd (filled circles) and 2.0 cpd (open triangles).</div>
<div class="t" style="left:453.3px;top:320.90px;font-size:11.4px;letter-spacing:0.073px;word-spacing:0.366px"><b>Fig. 6.</b><span style="display:inline-block;width:3.3px"></span> Same as Fig. 4; cat Bonnie.</div>
<div class="t" style="left:121.6px;top:686.90px;font-size:11.4px;letter-spacing:0.041px;word-spacing:0.194px"><b>Fig. 5.</b><span style="display:inline-block;width:3.3px"></span> Same as Fig. 4; cat Beth.</div>
<div class="t" style="left:452.2px;top:643.00px;font-size:11.4px;letter-spacing:0.062px;word-spacing:0.309px"><b>Fig. 7.</b><span style="display:inline-block;width:3.3px"></span> Same as Fig. 4; cat Bobbie.</div>
<div class="t" style="left:369px;top:690.80px;font-size:12.6px;letter-spacing:0.037px;word-spacing:0.210px">use of a temporal frequency to which the cats were very sensi-</div>
<div class="t" style="left:369px;top:705.10px;font-size:12.6px;letter-spacing:0.054px;word-spacing:0.315px">tive (e.g., 7.0 Hz) and thus difficulty was expected in terms of</div>
</body></html>
